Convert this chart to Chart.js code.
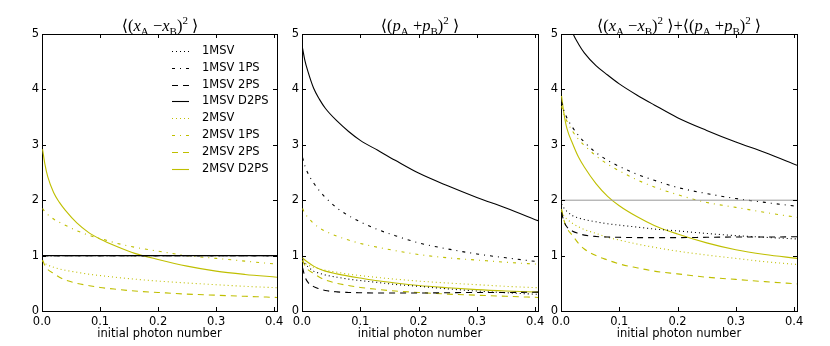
<!DOCTYPE html>
<html>
<head>
<meta charset="utf-8">
<script src="https://cdn.jsdelivr.net/npm/chart.js@4/dist/chart.umd.min.js"></script>
<style>
  html, body { margin: 0; padding: 0; background: #fff; }
  #wrap { position: relative; width: 830px; height: 346px; overflow: hidden; }
  #wrap canvas { position: absolute; top: 0; }
  .ttl {
    position: absolute; top: 17px; transform: translateX(-50%);
    font-family: 'Liberation Serif', 'DejaVu Serif', serif; font-size: 16.5px;
    line-height: 18px; white-space: nowrap; color: #000;
  }
  .ttl sub { font-size: 11px; vertical-align: -4px; line-height: 0; }
  .ttl sup { font-size: 11px; vertical-align: 7px; line-height: 0; }
  .ttl .br { font-family: 'DejaVu Sans', sans-serif; font-size: 16px; }
</style>
</head>
<body>
<div id="wrap">
  <canvas id="panel1" width="290" height="346" style="left:0px"></canvas>
  <canvas id="panel2" width="268" height="346" style="left:282px"></canvas>
  <canvas id="panel3" width="289" height="346" style="left:541px"></canvas>
  <div class="ttl" style="left:160px"><span class="br">⟨</span>(<i>x</i><sub>A</sub> −<i>x</i><sub>B</sub>)<sup>2</sup> <span class="br">⟩</span></div>
  <div class="ttl" style="left:420px"><span class="br">⟨</span>(<i>p</i><sub>A</sub> +<i>p</i><sub>B</sub>)<sup>2</sup> <span class="br">⟩</span></div>
  <div class="ttl" style="left:679px"><span class="br">⟨</span>(<i>x</i><sub>A</sub> −<i>x</i><sub>B</sub>)<sup>2</sup> <span class="br">⟩</span>+<span class="br">⟨</span>(<i>p</i><sub>A</sub> +<i>p</i><sub>B</sub>)<sup>2</sup> <span class="br">⟩</span></div>
</div>
<script>
const photonN = [0.001, 0.005, 0.01, 0.02, 0.03, 0.04, 0.06, 0.08, 0.1, 0.13, 0.16, 0.2, 0.25, 0.3, 0.35, 0.405];
const xTicks = [0, 0.1, 0.2, 0.3, 0.4];
const yTicks = [0, 1, 2, 3, 4, 5];
const seriesNames = ['1MSV', '1MSV 1PS', '1MSV 2PS', '1MSV D2PS', '2MSV', '2MSV 1PS', '2MSV 2PS', '2MSV D2PS'];

// <(xA - xB)^2>
const p1_1MSV      = [1, 1, 1, 1, 1, 1, 1, 1, 1, 1, 1, 1, 1, 1, 1, 1];
const p1_1MSV1PS   = [1, 1, 1, 1, 1, 1, 1, 1, 1, 1, 1, 1, 1, 1, 1, 1];
const p1_1MSV2PS   = [1, 1, 1, 1, 1, 1, 1, 1, 1, 1, 1, 1, 1, 1, 1, 1];
const p1_1MSVD2PS  = [1, 1, 1, 1, 1, 1, 1, 1, 1, 1, 1, 1, 1, 1, 1, 1];
const p1_2MSV      = [0.90, 0.86, 0.83, 0.79, 0.76, 0.735, 0.70, 0.665, 0.64, 0.605, 0.575, 0.54, 0.505, 0.475, 0.445, 0.42];
const p1_2MSV1PS   = [1.85, 1.79, 1.74, 1.66, 1.60, 1.55, 1.45, 1.37, 1.31, 1.22, 1.15, 1.08, 1.00, 0.95, 0.90, 0.845];
const p1_2MSV2PS   = [0.92, 0.82, 0.75, 0.68, 0.61, 0.56, 0.50, 0.46, 0.425, 0.39, 0.36, 0.335, 0.305, 0.285, 0.265, 0.245];
const p1_2MSVD2PS  = [2.92, 2.65, 2.42, 2.14, 1.96, 1.82, 1.59, 1.42, 1.30, 1.16, 1.04, 0.93, 0.81, 0.72, 0.66, 0.61];

// <(pA + pB)^2>
const p2_1MSV      = [0.93, 0.86, 0.80, 0.72, 0.68, 0.65, 0.61, 0.575, 0.55, 0.515, 0.48, 0.445, 0.40, 0.36, 0.33, 0.30];
const p2_1MSV1PS   = [2.77, 2.62, 2.49, 2.31, 2.17, 2.05, 1.86, 1.72, 1.61, 1.47, 1.36, 1.23, 1.12, 1.03, 0.96, 0.89];
const p2_1MSV2PS   = [0.78, 0.62, 0.52, 0.44, 0.40, 0.37, 0.345, 0.335, 0.33, 0.325, 0.325, 0.325, 0.33, 0.335, 0.335, 0.34];
const p2_1MSVD2PS  = [4.74, 4.52, 4.33, 4.02, 3.82, 3.66, 3.43, 3.24, 3.08, 2.90, 2.72, 2.49, 2.26, 2.05, 1.86, 1.63];
const p2_2MSV      = [0.90, 0.86, 0.83, 0.79, 0.76, 0.735, 0.70, 0.665, 0.64, 0.605, 0.575, 0.54, 0.505, 0.475, 0.445, 0.42];
const p2_2MSV1PS   = [1.85, 1.76, 1.69, 1.58, 1.50, 1.44, 1.35, 1.28, 1.22, 1.15, 1.09, 1.02, 0.96, 0.92, 0.88, 0.845];
const p2_2MSV2PS   = [0.92, 0.82, 0.75, 0.68, 0.61, 0.56, 0.50, 0.46, 0.425, 0.39, 0.36, 0.335, 0.305, 0.285, 0.265, 0.245];
const p2_2MSVD2PS  = [0.96, 0.92, 0.88, 0.81, 0.76, 0.72, 0.67, 0.63, 0.595, 0.545, 0.505, 0.46, 0.42, 0.385, 0.36, 0.34];

// sum of both
const p3_1MSV      = [1.93, 1.86, 1.80, 1.72, 1.68, 1.65, 1.61, 1.575, 1.55, 1.515, 1.48, 1.445, 1.40, 1.36, 1.33, 1.30];
const p3_1MSV1PS   = [3.77, 3.62, 3.49, 3.31, 3.17, 3.05, 2.86, 2.72, 2.61, 2.47, 2.36, 2.23, 2.12, 2.03, 1.96, 1.89];
const p3_1MSV2PS   = [1.78, 1.62, 1.52, 1.44, 1.40, 1.37, 1.345, 1.335, 1.33, 1.325, 1.325, 1.325, 1.33, 1.335, 1.335, 1.34];
const p3_1MSVD2PS  = [5.74, 5.52, 5.33, 5.02, 4.82, 4.66, 4.43, 4.26, 4.10, 3.90, 3.72, 3.49, 3.26, 3.05, 2.86, 2.63];
const p3_2MSV      = [1.80, 1.72, 1.66, 1.58, 1.52, 1.47, 1.40, 1.33, 1.28, 1.21, 1.15, 1.08, 1.01, 0.95, 0.89, 0.84];
const p3_2MSV1PS   = [3.70, 3.55, 3.43, 3.24, 3.10, 2.99, 2.80, 2.65, 2.53, 2.37, 2.24, 2.10, 1.96, 1.87, 1.78, 1.69];
const p3_2MSV2PS   = [1.84, 1.64, 1.50, 1.36, 1.22, 1.12, 1.00, 0.92, 0.85, 0.78, 0.72, 0.67, 0.61, 0.57, 0.53, 0.49];
const p3_2MSVD2PS  = [3.88, 3.57, 3.30, 3.02, 2.78, 2.60, 2.30, 2.07, 1.90, 1.705, 1.545, 1.39, 1.23, 1.105, 1.02, 0.95];
const refX = [0, 0.405];
const p3_ref = [2, 2];

// line style per series (same order as seriesNames)
const BLACK = '#000000', OLIVE = '#bfbf00';
const lineColors = [BLACK, BLACK, BLACK, BLACK, OLIVE, OLIVE, OLIVE, OLIVE];
const lineDashes = [[1, 3], [3, 5, 1, 5], [6, 5], [], [1, 3], [3, 5, 1, 5], [6, 5], []];

Chart.defaults.font.family = 'DejaVu Sans';
Chart.defaults.font.size = 11.5;
Chart.defaults.color = '#000';

function makeDatasets(values) {
  return seriesNames.map((name, i) => ({
    label: name,
    data: photonN.map((x, j) => ({ x: x, y: values[i][j] })),
    borderColor: lineColors[i],
    borderDash: lineDashes[i],
    borderWidth: 1.1,
    pointRadius: 0,
    fill: false,
    cubicInterpolationMode: 'monotone'
  }));
}

const noGrid = { display: false, drawTicks: false, tickLength: 0 };
const borderOpts = { display: true, color: '#000', width: 1 };

function makeScales(yWidth) {
  return {
    x: {
      type: 'linear', position: 'bottom', min: 0, max: 0.405,
      grid: noGrid, border: borderOpts,
      afterBuildTicks: s => { s.ticks = xTicks.map(v => ({ value: v })); },
      afterFit: s => { s.height = 35; },
      ticks: { padding: 4, autoSkip: false, maxRotation: 0, callback: v => v.toFixed(1) },
      title: { display: true, text: 'initial photon number', padding: { top: 0, bottom: 5 } }
    },
    xTop: {
      type: 'linear', position: 'top', min: 0, max: 0.405,
      grid: noGrid, border: borderOpts,
      afterFit: s => { s.height = 0; },
      ticks: { display: false }
    },
    y: {
      type: 'linear', position: 'left', min: 0, max: 5,
      grid: noGrid, border: borderOpts,
      afterBuildTicks: s => { s.ticks = yTicks.map(v => ({ value: v })); },
      afterFit: s => { s.width = yWidth; },
      ticks: { padding: 3, callback: v => String(v) }
    },
    yRight: {
      type: 'linear', position: 'right', min: 0, max: 5,
      grid: noGrid, border: borderOpts,
      afterFit: s => { s.width = 0; },
      ticks: { display: false }
    }
  };
}

// matplotlib-style tick marks pointing into the plot, on all four sides
const innerTicks = {
  id: 'innerTicks',
  afterDraw(chart) {
    const { ctx, chartArea } = chart;
    const xs = chart.scales.x, ys = chart.scales.y;
    const len = 4;
    ctx.save();
    ctx.strokeStyle = '#000';
    ctx.lineWidth = 1;
    ctx.beginPath();
    xs.ticks.forEach(t => {
      const px = Math.round(xs.getPixelForValue(t.value)) + 0.5;
      ctx.moveTo(px, chartArea.bottom); ctx.lineTo(px, chartArea.bottom - len);
      ctx.moveTo(px, chartArea.top); ctx.lineTo(px, chartArea.top + len);
    });
    ys.ticks.forEach(t => {
      const py = Math.round(ys.getPixelForValue(t.value)) + 0.5;
      ctx.moveTo(chartArea.left, py); ctx.lineTo(chartArea.left + len, py);
      ctx.moveTo(chartArea.right, py); ctx.lineTo(chartArea.right - len, py);
    });
    ctx.stroke();
    ctx.restore();
  }
};

// legend drawn inside the first panel, upper right
const insideLegend = {
  id: 'insideLegend',
  afterDatasetsDraw(chart) {
    const { ctx, chartArea } = chart;
    ctx.save();
    ctx.textBaseline = 'middle';
    ctx.textAlign = 'left';
    ctx.fillStyle = '#000';
    ctx.font = '11.5px "DejaVu Sans"';
    chart.data.datasets.forEach((ds, i) => {
      const y = Math.round(chartArea.top + 16.7 + i * 16.9) + 0.5;
      const x0 = chartArea.right - 105;
      ctx.beginPath();
      ctx.strokeStyle = ds.borderColor;
      ctx.lineWidth = ds.borderWidth;
      ctx.setLineDash(ds.borderDash);
      ctx.moveTo(x0, y);
      ctx.lineTo(x0 + 17, y);
      ctx.stroke();
      ctx.setLineDash([]);
      ctx.fillText(ds.label, x0 + 30, y);
    });
    ctx.restore();
  }
};

function makeChart(id, values, yWidth, padRight, extra, plugins) {
  const datasets = makeDatasets(values);
  if (extra) datasets.unshift(extra);
  return new Chart(document.getElementById(id), {
    type: 'line',
    data: { datasets: datasets },
    options: {
      responsive: false,
      animation: false,
      layout: { autoPadding: false, padding: { left: 0, right: padRight, top: 34, bottom: 0 } },
      scales: makeScales(yWidth),
      plugins: { legend: { display: false }, tooltip: { enabled: false } }
    },
    plugins: [innerTicks].concat(plugins || [])
  });
}

makeChart('panel1',
  [p1_1MSV, p1_1MSV1PS, p1_1MSV2PS, p1_1MSVD2PS, p1_2MSV, p1_2MSV1PS, p1_2MSV2PS, p1_2MSVD2PS],
  42, 13, null, [insideLegend]);

makeChart('panel2',
  [p2_1MSV, p2_1MSV1PS, p2_1MSV2PS, p2_1MSVD2PS, p2_2MSV, p2_2MSV1PS, p2_2MSV2PS, p2_2MSVD2PS],
  20, 12, null, null);

makeChart('panel3',
  [p3_1MSV, p3_1MSV1PS, p3_1MSV2PS, p3_1MSVD2PS, p3_2MSV, p3_2MSV1PS, p3_2MSV2PS, p3_2MSVD2PS],
  20, 33,
  {
    label: 'bound',
    data: refX.map((x, j) => ({ x: x, y: p3_ref[j] })),
    borderColor: '#999999', borderWidth: 1, pointRadius: 0, fill: false
  },
  null);
</script>
</body>
</html>
